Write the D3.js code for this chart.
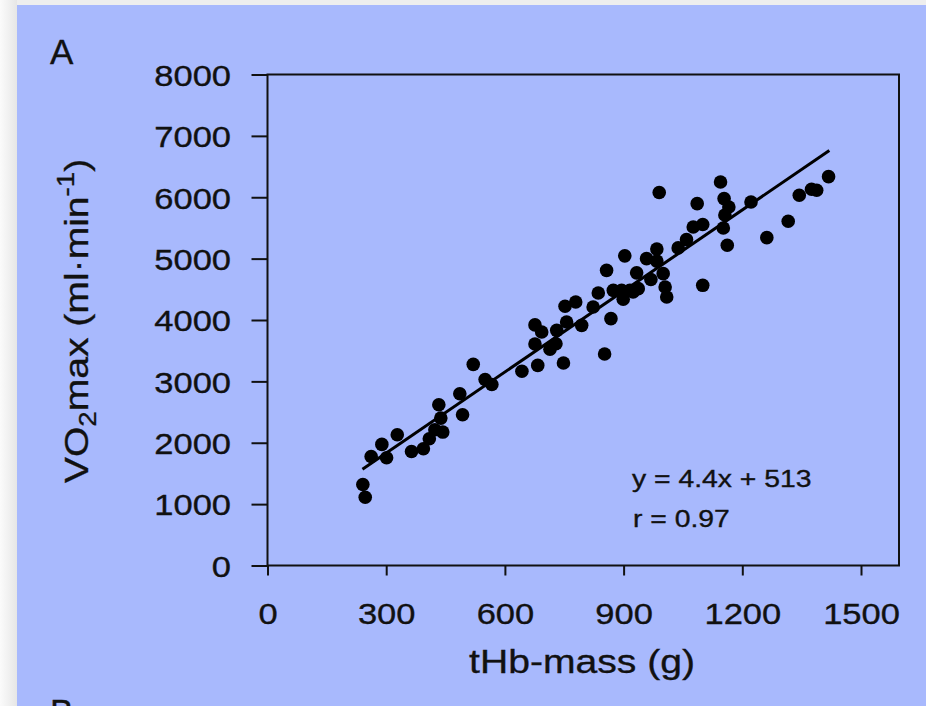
<!DOCTYPE html>
<html>
<head>
<meta charset="utf-8">
<script src="https://cdn.jsdelivr.net/npm/d3@7"></script>
<style>
  html, body { margin: 0; padding: 0; background: #efefef; overflow: hidden; }
  text { font-family: "Liberation Sans", Arial, sans-serif; fill: #111; stroke: #111; stroke-width: 0.35px; }
</style>
</head>
<body>
<div id="chart"></div>
<script>
// tHb-mass (g) and VO2max (ml/min)
const tHbMass = [241, 247, 262, 289, 301, 328, 364, 394, 409, 423, 443, 433, 438, 486, 493, 520, 550, 567,
  643, 683, 748, 852, 676, 714, 729, 676, 693, 731, 756, 752, 779, 794, 823, 836, 857, 868, 903, 895, 899,
  933, 924, 958, 984, 984, 1000, 1005, 1009, 969, 1038, 1059, 1076, 1100, 1152, 1156, 1166, 1154, 1162,
  1222, 1262, 1316, 1344, 1375, 1388, 1418, 1145, 1086, 990, 1100, 874, 937, 916];
const vo2max = [1320, 1113, 1777, 1973, 1756, 2130, 1858, 1902, 2065, 2212, 2174, 2620, 2402, 2799, 2457, 3277, 3030, 2950,
  3165, 3260, 3300, 3445, 3610, 3525, 3614, 3920, 3804, 3831, 3967, 4225, 4293, 3913, 4211, 4440, 4809, 4022, 5045, 4483, 4340,
  4768, 4456, 5000, 5155, 4960, 4755, 4537, 4375, 4660, 5175, 5310, 5516, 5555, 5500, 5710, 5841, 5978, 5217,
  5923, 5342, 5608, 6032, 6130, 6113, 6336, 6249, 5896, 6078, 4565, 4483, 4511, 4483];

const xTicks = [0, 300, 600, 900, 1200, 1500];
const yTicks = [0, 1000, 2000, 3000, 4000, 5000, 6000, 7000, 8000];

// regression
const fitSlope = 4.4, fitIntercept = 513;
const fitFrom = 240, fitTo = 1420;
const fitLabel = "y = 4.4x + 513";
const rLabel = "r = 0.97";

const W = 926, H = 706;
const plot = { left: 267.5, right: 899, top: 74.5, bottom: 565.5 };
const xStretch = 1.15;   // the original lettering is a bit wide

const svg = d3.select("#chart").append("svg")
  .attr("width", W).attr("height", H);

// page bg + blue panel
const defs = svg.append("defs");
const grad = defs.append("linearGradient").attr("id", "shade").attr("x1", 0).attr("x2", 1);
grad.append("stop").attr("offset", "0%").attr("stop-color", "#fbfbfb");
grad.append("stop").attr("offset", "100%").attr("stop-color", "#e6e6e6");
svg.append("rect").attr("width", 17).attr("height", H).attr("fill", "url(#shade)");
svg.append("rect").attr("x", 17).attr("width", W - 17).attr("height", 5).attr("fill", "#eeeeee");
svg.append("rect").attr("x", 17).attr("y", 5).attr("width", W - 17).attr("height", H - 5).attr("fill", "#a8b9fd");

const x = d3.scaleLinear().domain([0, 1500]).range([plot.left, 861]);
const y = d3.scaleLinear().domain([0, 8000]).range([plot.bottom, plot.top]);

// axes
const yAxis = svg.append("g")
  .attr("transform", `translate(${plot.left},0)`)
  .call(d3.axisLeft(y).tickValues(yTicks).tickSize(16).tickSizeOuter(0).tickFormat(d3.format("d")));
yAxis.select(".domain").remove();
yAxis.selectAll("line").attr("stroke", "#111").attr("stroke-width", 2);
yAxis.selectAll("text")
  .attr("font-size", 30).attr("fill", "#111")
  .attr("x", -36.5 / xStretch).attr("dy", "0.36em")
  .attr("transform", `scale(${xStretch},1)`);

const xAxis = svg.append("g")
  .attr("transform", `translate(0,${plot.bottom})`)
  .call(d3.axisBottom(x).tickValues(xTicks).tickSize(10).tickPadding(27.5).tickSizeOuter(0).tickFormat(d3.format("d")));
xAxis.select(".domain").remove();
xAxis.selectAll("line").attr("stroke", "#111").attr("stroke-width", 2);
xAxis.selectAll("text")
  .attr("font-size", 30).attr("fill", "#111")
  .attr("transform", `scale(${xStretch},1)`);

// frame
svg.append("rect")
  .attr("x", plot.left).attr("y", plot.top)
  .attr("width", plot.right - plot.left).attr("height", plot.bottom - plot.top)
  .attr("fill", "none").attr("stroke", "#111").attr("stroke-width", 2);

// fit line
svg.append("line")
  .attr("x1", x(fitFrom)).attr("y1", y(fitSlope * fitFrom + fitIntercept))
  .attr("x2", x(fitTo)).attr("y2", y(fitSlope * fitTo + fitIntercept))
  .attr("stroke", "#000").attr("stroke-width", 3);

// points
svg.append("g").selectAll("circle")
  .data(tHbMass.map((d, i) => [d, vo2max[i]]))
  .enter().append("circle")
  .attr("cx", d => x(d[0]))
  .attr("cy", d => y(d[1]))
  .attr("r", 6.8)
  .attr("fill", "#000");

// helper for wide text
function wideText(px, py, str, size, anchor, sx) {
  return svg.append("text")
    .attr("transform", `translate(${px},${py}) scale(${sx || xStretch},1)`)
    .attr("text-anchor", anchor || "start")
    .attr("font-size", size)
    .text(str);
}

wideText(632, 487, fitLabel, 24, "start", 1.18);
wideText(633, 527, rLabel, 24, "start", 1.18);

wideText(582, 673, "tHb-mass (g)", 34, "middle");

// y title with sub/superscript
const yt = svg.append("text")
  .attr("transform", `translate(88,321) rotate(-90) scale(${xStretch},1)`)
  .attr("text-anchor", "middle")
  .attr("font-size", 34);
yt.append("tspan").text("VO");
yt.append("tspan").attr("font-size", 24).attr("dy", 8).text("2");
yt.append("tspan").attr("dy", -8).text("max (ml·min");
yt.append("tspan").attr("font-size", 24).attr("dy", -14).text("-1");
yt.append("tspan").attr("dy", 14).text(")");

// panel letters (B is the next panel, cut by the page edge)
svg.append("text").attr("x", 50).attr("y", 64).attr("font-size", 35).text("A");
svg.append("text").attr("x", 50).attr("y", 724).attr("font-size", 35).text("B");
</script>
</body>
</html>
